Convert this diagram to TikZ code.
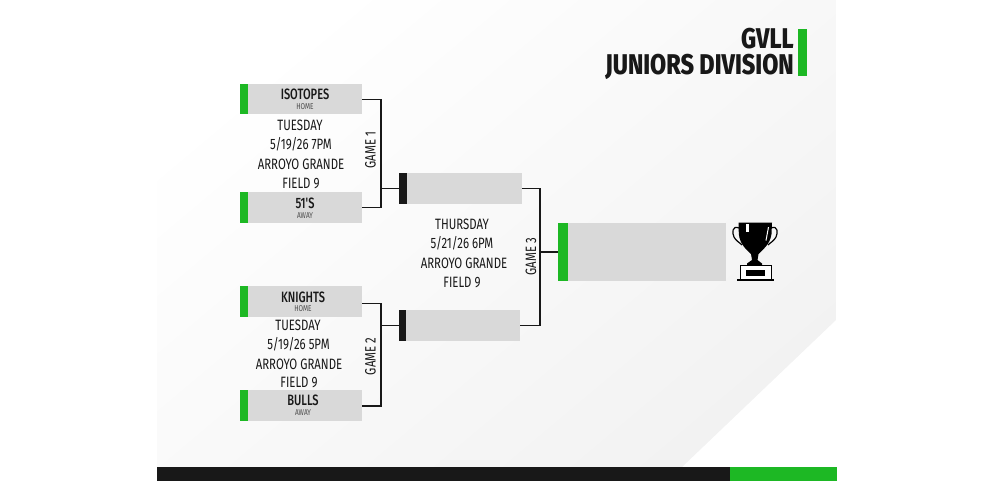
\documentclass[tikz,border=0pt]{standalone}
\usepackage{fontspec}
\setmainfont{Fira Sans}
\newfontfamily\narrowfont[FakeStretch=0.76]{Fira Sans}
\newfontfamily\namefont[FakeStretch=0.74]{Fira Sans Medium}
\newfontfamily\titlefont[FakeStretch=0.82]{Fira Sans ExtraBold}
\usetikzlibrary{calc}
\definecolor{brandgreen}{HTML}{1DB824}
\definecolor{inkblack}{HTML}{181818}
\definecolor{boxgray}{HTML}{D9D9D9}
\tikzset{
  bar/.style={draw=none,inner sep=0pt,outer sep=0pt,rectangle},
  grayslot/.style={bar,fill=boxgray},
  greentab/.style={bar,fill=brandgreen},
  blacktab/.style={bar,fill=inkblack},
  link/.style={draw=inkblack,line width=1.3pt,line join=miter},
  teamname/.style={inner sep=0pt,text=inkblack,font=\namefont\fontsize{15}{15}\selectfont},
  teamrole/.style={inner sep=0pt,text=black!70,font=\narrowfont\fontsize{8.5}{8.5}\selectfont},
  info/.style={inner sep=0pt,text=inkblack,font=\narrowfont\fontsize{15}{15}\selectfont},
  gamelabel/.style={inner sep=0pt,rotate=90,text=inkblack,font=\narrowfont\fontsize{15}{15}\selectfont},
  bigtitle/.style={inner sep=0pt,anchor=east,text=inkblack,font=\titlefont\fontsize{28.5}{28.5}\selectfont},
}
\newcommand{\slotbox}[6]{% name, style, x0, y0, x1, y1
  \node[#2,minimum width=#5pt-#3pt,minimum height=#6pt-#4pt,anchor=north west] (#1) at (#3,#4) {};}
\begin{document}
\begin{tikzpicture}[x=1pt,y=-1pt]
\useasboundingbox (0,0) rectangle (995,481);
% background panel
\begin{scope}
  \clip (157,0) -- (836,0) -- (836,320) -- (682,467) -- (157,467) -- cycle;
  \shade[shading=axis,top color=white,bottom color=black!5,shading angle=40] (157,0) rectangle (836,467);
\end{scope}
% footer
\slotbox{footblack}{blacktab}{157}{467}{730}{481}
\slotbox{footgreen}{greentab}{730}{467}{837}{481}
% title
\slotbox{titletab}{greentab}{798}{29}{807}{76}
\node[bigtitle] (title1) at (794,38.5) {GVLL};
\node[bigtitle] (title2) at (794,67) {JUNIORS DIVISION};
% team slots
\slotbox{t1tab}{greentab}{240}{84}{247.5}{114.5}
\slotbox{t1}{grayslot}{247.5}{84}{362}{114.5}
\slotbox{t2tab}{greentab}{240}{192}{247.5}{223}
\slotbox{t2}{grayslot}{247.5}{192}{362}{223}
\slotbox{t3tab}{greentab}{240}{286}{247.5}{317}
\slotbox{t3}{grayslot}{247.5}{286}{362}{317}
\slotbox{t4tab}{greentab}{240}{389.5}{247.5}{420.5}
\slotbox{t4}{grayslot}{247.5}{389.5}{362}{420.5}
% semifinal slots
\slotbox{s1tab}{blacktab}{399}{173}{407}{204}
\slotbox{s1}{grayslot}{407}{173}{522}{204}
\slotbox{s2tab}{blacktab}{399}{310}{406}{341}
\slotbox{s2}{grayslot}{406}{310}{520}{341}
% final slot
\slotbox{ftab}{greentab}{558}{223}{568}{281}
\slotbox{f}{grayslot}{568}{223}{726}{281}
% connectors
\coordinate (g1) at (381,150);
\coordinate (g2) at (381,357);
\coordinate (g3) at (540,256);
\draw[link] (t1.east) -| (g1) |- (t2.east);
\draw[link] (g1 |- s1tab.west) -- (s1tab.west);
\draw[link] ([yshift=-2pt]t3.east) -| (g2) |- ([yshift=-1pt]t4.east);
\draw[link] (g2 |- s2tab.west) -- (s2tab.west);
\draw[link] (s1.east) -| (g3) |- (s2.east);
\draw[link] (g3 |- ftab.west) -- (ftab.west);
% team names
\node[teamname] (n1) at (305,94.5) {ISOTOPES};
\node[teamrole] (r1) at (305,106.5) {HOME};
\node[teamname] (n2) at (305,203.5) {51'S};
\node[teamrole] (r2) at (305,215.5) {AWAY};
\node[teamname] (n3) at (303,297.5) {KNIGHTS};
\node[teamrole] (r3) at (303,309) {HOME};
\node[teamname] (n4) at (303,400.5) {BULLS};
\node[teamrole] (r4) at (303,412.5) {AWAY};
% game info
\node[info] (a1) at (300,125.5) {TUESDAY};
\node[info] (a2) at (301,144.5) {5/19/26 7PM};
\node[info] (a3) at (301,164) {ARROYO GRANDE};
\node[info] (a4) at (301,183) {FIELD 9};
\node[info] (b1) at (298,325) {TUESDAY};
\node[info] (b2) at (298.5,344.5) {5/19/26 5PM};
\node[info] (b3) at (299,364) {ARROYO GRANDE};
\node[info] (b4) at (299,382.5) {FIELD 9};
\node[info] (c1) at (462,224.5) {THURSDAY};
\node[info] (c2) at (462,243.5) {5/21/26 6PM};
\node[info] (c3) at (464,263) {ARROYO GRANDE};
\node[info] (c4) at (462,282.5) {FIELD 9};
\node[gamelabel] (l1) at (370.5,150) {GAME 1};
\node[gamelabel] (l2) at (370.5,356.5) {GAME 2};
\node[gamelabel] (l3) at (531,256.5) {GAME 3};
% trophy
\draw[black,line width=1.2pt,fill=none] (739,228) .. controls (732,225) and (732,233) .. (734,237) .. controls (736,241) and (739,242) .. (742,245);
\draw[black,line width=1.2pt,fill=none] (771,228) .. controls (778,225) and (778,233) .. (776,237) .. controls (774,241) and (771,242) .. (768,245);
\fill[black] (738.5,222.5) -- (772,222.5) -- (771.5,234) .. controls (770,245) and (762,250) .. (758.5,254)
  -- (757.5,260) -- (762,263.5) -- (762,265) -- (747,265) -- (747,263.5) -- (752,260) -- (751,254)
  .. controls (747,250) and (740,245) .. (738.8,234) -- cycle;
\fill[white] (746,224) rectangle (749,231.5);
\fill[white] (768,227) -- (769,227) -- (766.5,240.5) -- (765.5,240.5) -- cycle;
\draw[black,line width=1pt,fill=white] (740,265.5) rectangle (771,280);
\fill[black] (746,270) rectangle (765,276);
\fill[black] (737,279.2) rectangle (774,281);
\end{tikzpicture}
\end{document}
